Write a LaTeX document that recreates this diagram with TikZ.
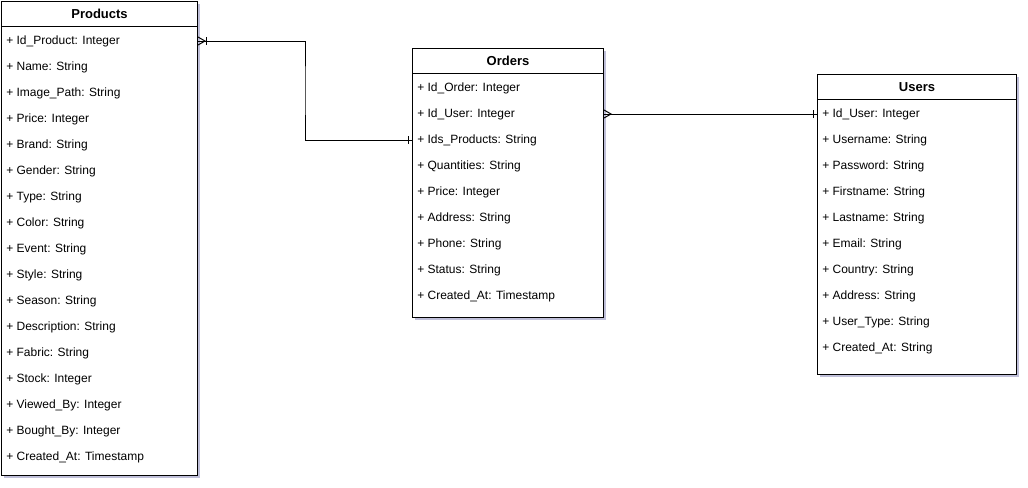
\documentclass[tikz,border=0pt]{standalone}
\usepackage{fontspec}
\setmainfont{Liberation Sans}
\usetikzlibrary{positioning,shadows,calc}

\begin{document}
\begin{tikzpicture}[x=0.75pt, y=-0.75pt,
    entitybox/.style={draw, fill=white, line width=0.75pt, inner sep=0pt, anchor=north west,
      drop shadow={shadow xshift=2pt, shadow yshift=-2pt, fill=black!60!blue, opacity=0.25}},
    head/.style={draw, fill=white, line width=0.75pt, inner sep=0pt, anchor=north west,
      minimum height=18.75pt, font=\bfseries\fontsize{9.75}{12}\selectfont},
    field/.style={anchor=west, inner sep=0pt, font=\fontsize{9}{11}\selectfont},
    link/.style={line width=0.75pt}]

    \useasboundingbox (0,0) rectangle (1028,487);

    % Products
    \node[entitybox, minimum width=147pt, minimum height=355.5pt] (prodbox) at (1,1) {};
    \node[head, minimum width=147pt] (prod) at (1,1) {Products};
    \foreach \txt [count=\i] in {Id\_Product: Integer, Name: String, Image\_Path: String,
        Price: Integer, Brand: String, Gender: String, Type: String, Color: String,
        Event: String, Style: String, Season: String, Description: String,
        Fabric: String, Stock: Integer, Viewed\_By: Integer, Bought\_By: Integer,
        Created\_At: Timestamp}
      \node[field] (prod-\i) at ($(prod.south west)+(5,14+26*\i-26)$) {+ \txt};

    % Orders
    \node[entitybox, minimum width=143.25pt, minimum height=201.75pt] (ordbox) at (412,48) {};
    \node[head, minimum width=143.25pt] (ord) at (412,48) {Orders};
    \foreach \txt [count=\i] in {Id\_Order: Integer, Id\_User: Integer, Ids\_Products: String,
        Quantities: String, Price: Integer, Address: String, Phone: String,
        Status: String, Created\_At: Timestamp}
      \node[field] (ord-\i) at ($(ord.south west)+(5,14+26*\i-26)$) {+ \txt};

    % Users
    \node[entitybox, minimum width=149.25pt, minimum height=225pt] (usrbox) at (817,74) {};
    \node[head, minimum width=149.25pt] (usr) at (817,74) {Users};
    \foreach \txt [count=\i] in {Id\_User: Integer, Username: String, Password: String,
        Firstname: String, Lastname: String, Email: String, Country: String,
        Address: String, User\_Type: String, Created\_At: String}
      \node[field] (usr-\i) at ($(usr.south west)+(5,14+26*\i-26)$) {+ \txt};

    % connector ends
    \coordinate (p1) at (prodbox.east |- prod-1);
    \coordinate (o3) at (ordbox.west |- ord-3);
    \coordinate (o2) at (ordbox.east |- ord-2);
    \coordinate (u1) at (usrbox.west |- o2);
    \coordinate (elbow) at ($(p1)!0.5!(o3)$);

    % Products -- Orders
    \draw[link] (p1) -| (elbow) |- (o3);
    \draw[link] ($(p1)+(0,-4)$) -- ($(p1)+(7,0)$) -- ($(p1)+(0,4)$);
    \draw[link] ($(p1)+(8,-4)$) -- ($(p1)+(8,4)$);
    \draw[link] ($(o3)+(-4,-4)$) -- ($(o3)+(-4,4)$);

    % Orders -- Users
    \draw[link] (o2) -- (u1);
    \draw[link] ($(o2)+(0,-4)$) -- ($(o2)+(7,0)$) -- ($(o2)+(0,4)$);
    \draw[link] ($(u1)+(-4,-4)$) -- ($(u1)+(-4,4)$);
\end{tikzpicture}
\end{document}
